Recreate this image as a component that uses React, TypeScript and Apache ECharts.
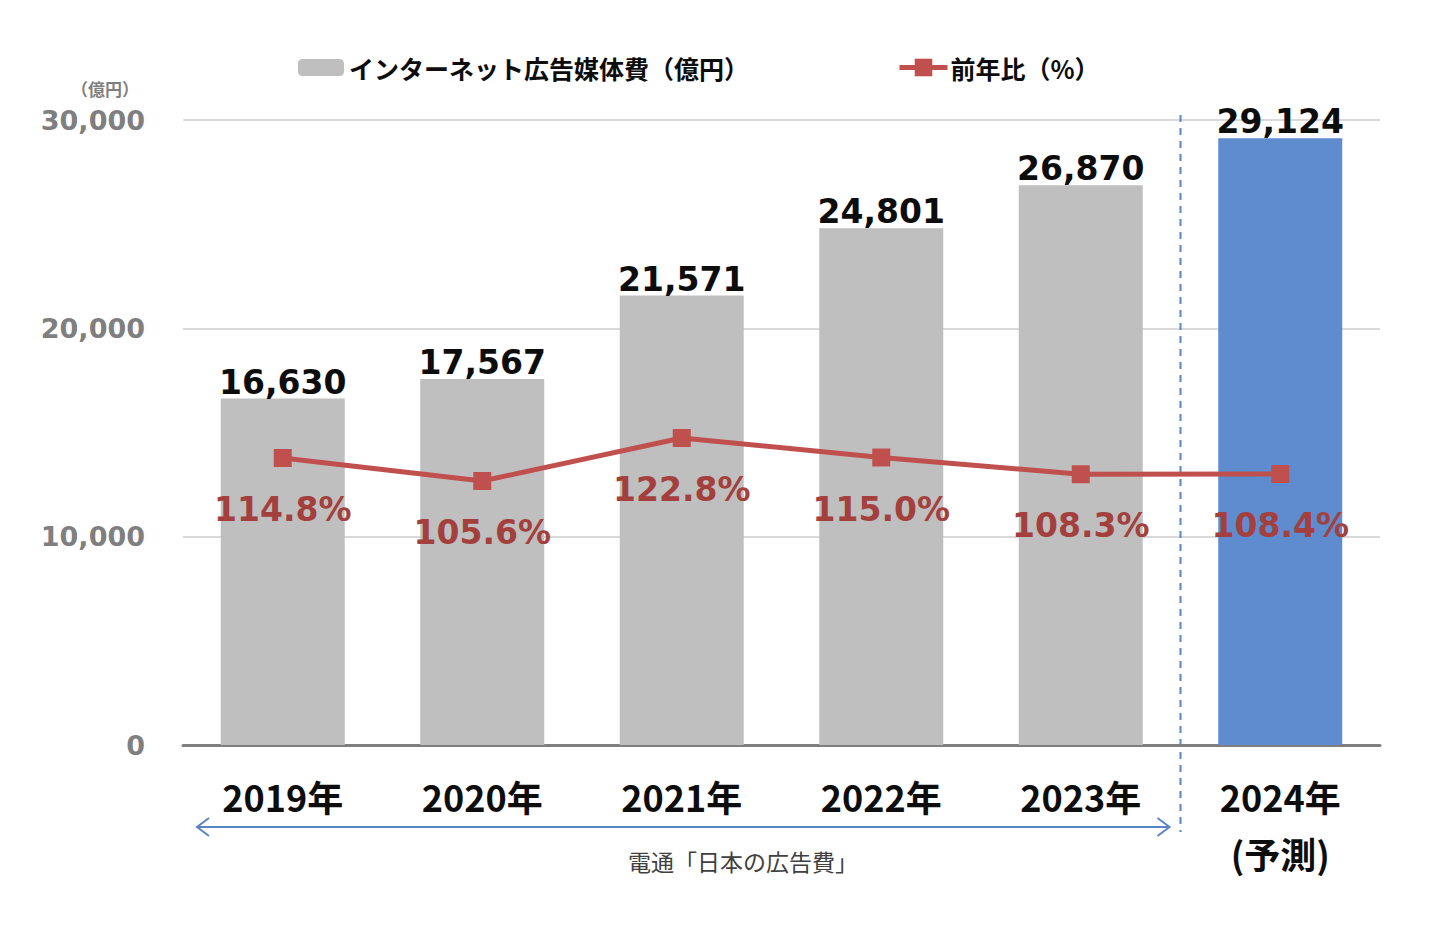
import React, { useEffect, useRef } from 'react';
import * as echarts from 'echarts';

const categories = ['2019年', '2020年', '2021年', '2022年', '2023年', '2024年\n(予測)'];
const adSpend = [16630, 17567, 21571, 24801, 26870, 29124];
const yoyRatio = [114.8, 105.6, 122.8, 115.0, 108.3, 108.4];
const forecastIndex = 5;
const yMin = 0;
const yMax = 30000;
const yInterval = 10000;
const ratioMax = 250;
const barName = 'インターネット広告媒体費（億円）';
const lineName = '前年比（%）';
const unitLabel = '（億円）';
const sourceLabel = '電通「日本の広告費」';

const CJK = '"Noto Sans CJK JP", "Noto Sans", sans-serif';
const NUM = '"DejaVu Sans", Verdana, sans-serif';

export default function App() {
  const ref = useRef<HTMLDivElement>(null);
  useEffect(() => {
    const chart = echarts.init(ref.current!, null, { renderer: 'svg' });
    const option: any = {
      animation: false,
      backgroundColor: '#ffffff',
      grid: { left: 183, right: 52, top: 120, bottom: 189 },
      legend: [
        {
          data: [barName],
          left: 293,
          top: 50,
          itemWidth: 46,
          itemHeight: 17,
          textStyle: { fontFamily: CJK, fontSize: 25, fontWeight: 'bold', color: '#0d0d0d', padding: [0, 0, 0, 0] },
        },
        {
          data: [lineName],
          left: 892,
          top: 50,
          itemWidth: 48,
          itemHeight: 22,
          lineStyle: { width: 5 },
          textStyle: { fontFamily: CJK, fontSize: 25, fontWeight: 'bold', color: '#0d0d0d', padding: [0, 0, 0, -2] },
        },
      ],
      xAxis: {
        type: 'category',
        data: categories,
        axisTick: { show: false },
        axisLine: { lineStyle: { color: '#7f7f7f', width: 3 } },
        axisLabel: {
          margin: 22,
          fontFamily: CJK,
          fontSize: 36,
          fontWeight: 'bold',
          color: '#0d0d0d',
          lineHeight: 57,
        },
      },
      yAxis: [
        {
          type: 'value',
          min: yMin,
          max: yMax,
          interval: yInterval,
          axisLine: { show: false },
          axisTick: { show: false },
          axisLabel: {
            formatter: (v: number) => v.toLocaleString('en-US'),
            fontFamily: NUM,
            fontWeight: 'bold',
            fontSize: 27,
            color: '#7f7f7f',
            margin: 38,
          },
          splitLine: { lineStyle: { color: '#d9d9d9', width: 2 } },
        },
        { type: 'value', min: 0, max: ratioMax, show: false, splitLine: { show: false } },
      ],
      series: [
        {
          name: barName,
          type: 'bar',
          barWidth: 124,
          itemStyle: { color: '#bfbfbf' },
          data: adSpend.map((v, i) =>
            i === forecastIndex ? { value: v, itemStyle: { color: '#5f8bcf' } } : v
          ),
          label: {
            show: true,
            position: 'top',
            distance: 0,
            formatter: (p: any) => Number(p.value).toLocaleString('en-US'),
            fontFamily: NUM,
            fontWeight: 'bold',
            fontSize: 33,
            color: '#0d0d0d',
          },
        },
        {
          name: lineName,
          type: 'line',
          yAxisIndex: 1,
          data: yoyRatio,
          symbol: 'rect',
          symbolSize: 18,
          z: 5,
          lineStyle: { color: '#c0504d', width: 5 },
          itemStyle: { color: '#c0504d' },
          label: {
            show: true,
            position: 'bottom',
            distance: 26,
            formatter: (p: any) => Number(p.value).toFixed(1) + '%',
            fontFamily: NUM,
            fontWeight: 'bold',
            fontSize: 33,
            color: '#a3403d',
          },
        },
      ],
    };
    chart.setOption(option);

    const x0 = chart.convertToPixel({ xAxisIndex: 0 }, categories[0]) as number;
    const x1 = chart.convertToPixel({ xAxisIndex: 0 }, categories[1]) as number;
    const x4 = chart.convertToPixel({ xAxisIndex: 0 }, categories[4]) as number;
    const x5 = chart.convertToPixel({ xAxisIndex: 0 }, categories[5]) as number;
    const yZero = chart.convertToPixel({ yAxisIndex: 0 }, 0) as number;
    const yTop = chart.convertToPixel({ yAxisIndex: 0 }, yMax) as number;
    const band = x1 - x0;
    const gridLeft = x0 - band / 2;
    const splitX = (x4 + x5) / 2;
    const arrowY = yZero + 82;
    const arrowL = gridLeft + 14;
    const arrowR = splitX - 11;
    const blue = '#5b84c4';

    chart.setOption({
      graphic: [
        {
          type: 'line',
          shape: { x1: splitX, y1: yTop - 5, x2: splitX, y2: arrowY + 5 },
          style: { stroke: blue, lineWidth: 2, lineDash: [7, 6] },
          silent: true,
        },
        {
          type: 'line',
          shape: { x1: arrowL, y1: arrowY, x2: arrowR, y2: arrowY },
          style: { stroke: blue, lineWidth: 2 },
          silent: true,
        },
        {
          type: 'polyline',
          shape: { points: [[arrowL + 12, arrowY - 9], [arrowL, arrowY], [arrowL + 12, arrowY + 9]] },
          style: { stroke: blue, lineWidth: 2, fill: null },
          silent: true,
        },
        {
          type: 'polyline',
          shape: { points: [[arrowR - 12, arrowY - 9], [arrowR, arrowY], [arrowR - 12, arrowY + 9]] },
          style: { stroke: blue, lineWidth: 2, fill: null },
          silent: true,
        },
        {
          type: 'text',
          x: 743,
          y: arrowY + 34,
          style: {
            text: sourceLabel,
            fontFamily: CJK,
            fontSize: 23,
            fill: '#404040',
            textAlign: 'center',
            textVerticalAlign: 'middle',
          },
          silent: true,
        },
        {
          type: 'text',
          x: 105,
          y: 88,
          style: {
            text: unitLabel,
            fontFamily: CJK,
            fontSize: 17,
            fontWeight: 'bold',
            fill: '#7f7f7f',
            textAlign: 'center',
            textVerticalAlign: 'middle',
          },
          silent: true,
        },
      ],
    });

    return () => chart.dispose();
  }, []);

  return (
    <div
      ref={ref}
      style={{ position: 'fixed', left: 0, top: 0, width: 1432, height: 934, background: '#fff' }}
    />
  );
}
